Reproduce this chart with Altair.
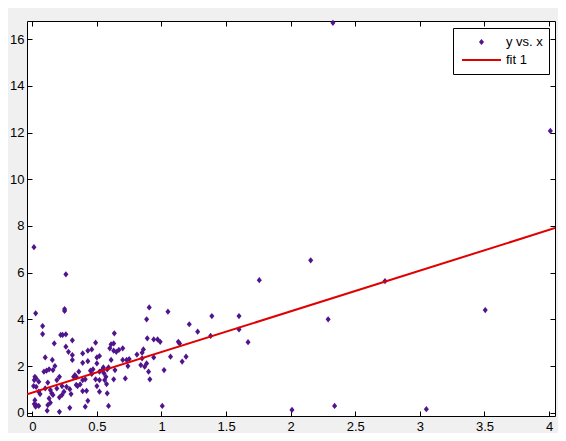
import altair as alt
import pandas as pd

# scatter data
x_vals = [0.026, 0.08, 0.08, 0.10, 0.155, 0.17, 0.25, 0.25, 0.22, 0.235, 0.26, 0.31, 0.26, 0.28, 0.31, 0.31,
          0.175, 0.02, 0.03, 0.015, 0.05, 0.01, 0.03, 0.05, 0.02, 0.015, 0.03, 0.026, 0.05, 0.06, 0.09, 0.11,
          0.13, 0.16, 0.12, 0.10, 0.14, 0.15, 0.16, 0.13, 0.14, 0.12, 0.115, 0.21, 0.19, 0.21, 0.23, 0.19,
          0.245, 0.23, 0.21, 0.265, 0.29, 0.30, 0.29, 0.32, 0.33, 0.34, 0.36, 0.34, 0.35, 0.37, 0.39, 0.39,
          0.43, 0.46, 0.43, 0.39, 0.42, 0.43, 0.41, 0.39, 0.41, 0.45, 0.47, 0.46, 0.49, 0.49, 0.50, 0.52,
          0.50, 0.52, 0.50, 0.52, 0.54, 0.55, 0.555, 0.57, 0.58, 0.59, 0.56, 0.575, 0.52, 0.58, 0.59, 0.60,
          0.61, 0.63, 0.635, 0.63, 0.61, 0.64, 0.63, 0.65, 0.67, 0.70, 0.70, 0.72, 0.74, 0.73, 0.75, 0.81,
          0.85, 0.86, 0.85, 0.885, 0.905, 0.89, 0.90, 0.91, 0.94, 0.97, 0.94, 0.84, 0.87, 0.885, 1.05, 1.07,
          1.02, 1.006, 1.14, 1.13, 1.16, 1.19, 1.215, 1.28, 0.99, 1.38, 1.39, 1.60, 1.60, 1.67, 1.757, 2.29,
          2.01, 2.34, 3.506, 3.05, 2.155, 2.73, 2.327, 4.01, 0.013, 0.26]
y_vals = [4.26, 3.71, 3.37, 2.37, 2.26, 2.97, 4.36, 4.44, 3.33, 3.33, 3.36, 3.10, 2.83, 2.61, 2.47, 2.26,
          2.00, 1.54, 1.47, 1.40, 1.33, 1.14, 1.11, 0.90, 0.54, 0.37, 0.33, 0.26, 0.29, 0.80, 1.76, 1.80,
          1.86, 1.83, 1.29, 1.04, 0.97, 0.83, 0.76, 0.61, 0.43, 0.33, 0.09, 0.04, 1.40, 1.54, 1.14, 1.04,
          0.90, 0.76, 0.66, 1.11, 1.01, 0.80, 0.21, 1.54, 1.61, 1.54, 1.76, 1.19, 1.14, 1.21, 2.14, 2.54,
          2.66, 2.71, 2.21, 0.93, 0.94, 0.51, 0.26, 1.40, 1.43, 1.80, 1.86, 1.66, 1.43, 3.00, 2.37, 2.43,
          2.11, 1.40, 1.14, 1.76, 1.83, 1.94, 1.69, 1.54, 1.86, 1.94, 1.40, 1.23, 0.90, 0.83, 0.29, 2.76,
          2.93, 2.97, 3.40, 2.66, 2.26, 1.83, 1.43, 2.61, 2.69, 2.76, 2.26, 1.47, 2.00, 2.26, 2.30, 2.49,
          2.57, 2.71, 2.33, 4.00, 4.51, 3.19, 1.76, 1.43, 3.14, 3.14, 2.37, 2.04, 1.97, 2.11, 4.33, 2.40,
          1.83, 0.29, 2.97, 3.04, 2.19, 2.40, 3.79, 3.47, 3.04, 3.29, 4.14, 4.14, 3.57, 3.02, 5.68, 4.00,
          0.12, 0.29, 4.40, 0.15, 6.53, 5.64, 16.70, 12.07, 7.09, 5.93]

# fitted line end points (over the axis x range)
fit_x = [-0.041, 4.046]
fit_y = [0.79, 7.91]

series = ["y vs. x", "fit 1"]
series_colors = ["#50148c", "#e00000"]
series_shapes = ["M0,-0.16L0.13,0L0,0.16L-0.13,0Z", "M-1,-0.05H1V0.05H-1Z"]

x_domain = [-0.041, 4.046]
y_domain = [-0.14, 16.78]
x_ticks = [0, 0.5, 1, 1.5, 2, 2.5, 3, 3.5, 4]
y_ticks = [0, 2, 4, 6, 8, 10, 12, 14, 16]

pts = pd.DataFrame({"x": x_vals, "y": y_vals, "s": [series[0]] * len(x_vals)})
fit = pd.DataFrame({"x": fit_x, "y": fit_y})

FONT = "Liberation Sans"

def ax(orient, labels, pad):
    return alt.Axis(orient=orient, values=x_ticks if orient in ("bottom", "top") else y_ticks,
                    labels=labels, format="~g", grid=False, domain=False, offset=-5, tickSize=5,
                    tickColor="black", tickWidth=1, labelPadding=pad, labelFont=FONT,
                    labelFontSize=13, labelColor="black", title=None)

xs = alt.Scale(domain=x_domain, nice=False, zero=False)
ys = alt.Scale(domain=y_domain, nice=False, zero=False)

points = alt.Chart(pts).mark_point(filled=True, size=1521, opacity=1).encode(
    x=alt.X("x:Q", scale=xs, axis=ax("bottom", True, 4)),
    y=alt.Y("y:Q", scale=ys, axis=ax("left", True, 3)),
    color=alt.Color("s:N", scale=alt.Scale(domain=series, range=series_colors),
                    legend=alt.Legend(title=None, orient="none", legendX=426, legendY=7,
                                      strokeColor="black", fillColor="white", padding=6,
                                      symbolSize=1521, symbolStrokeWidth=0, symbolOffset=3,
                                      clipHeight=16, rowPadding=2, labelOffset=5,
                                      labelFont=FONT, labelFontSize=13, labelColor="black",
                                      cornerRadius=0)),
    shape=alt.Shape("s:N", scale=alt.Scale(domain=series, range=series_shapes),
                    legend=alt.Legend(title=None)),
)

line = alt.Chart(fit).mark_line(strokeWidth=2, color="#e00000", clip=True).encode(
    x=alt.X("x:Q", scale=xs, axis=ax("top", False, 4)),
    y=alt.Y("y:Q", scale=ys, axis=ax("right", False, 3)),
)

chart = alt.layer(points, line).resolve_axis(x="independent", y="independent").properties(
    width=528, height=395,
    autosize=alt.AutoSizeParams(type="none"),
    padding={"left": 19, "top": 13, "right": 3, "bottom": 17},
    background="#f0f0f0",
).configure_view(stroke="black", strokeWidth=1, fill="white")

chart.save("out.html", embed_options={"renderer": "svg", "actions": False})
